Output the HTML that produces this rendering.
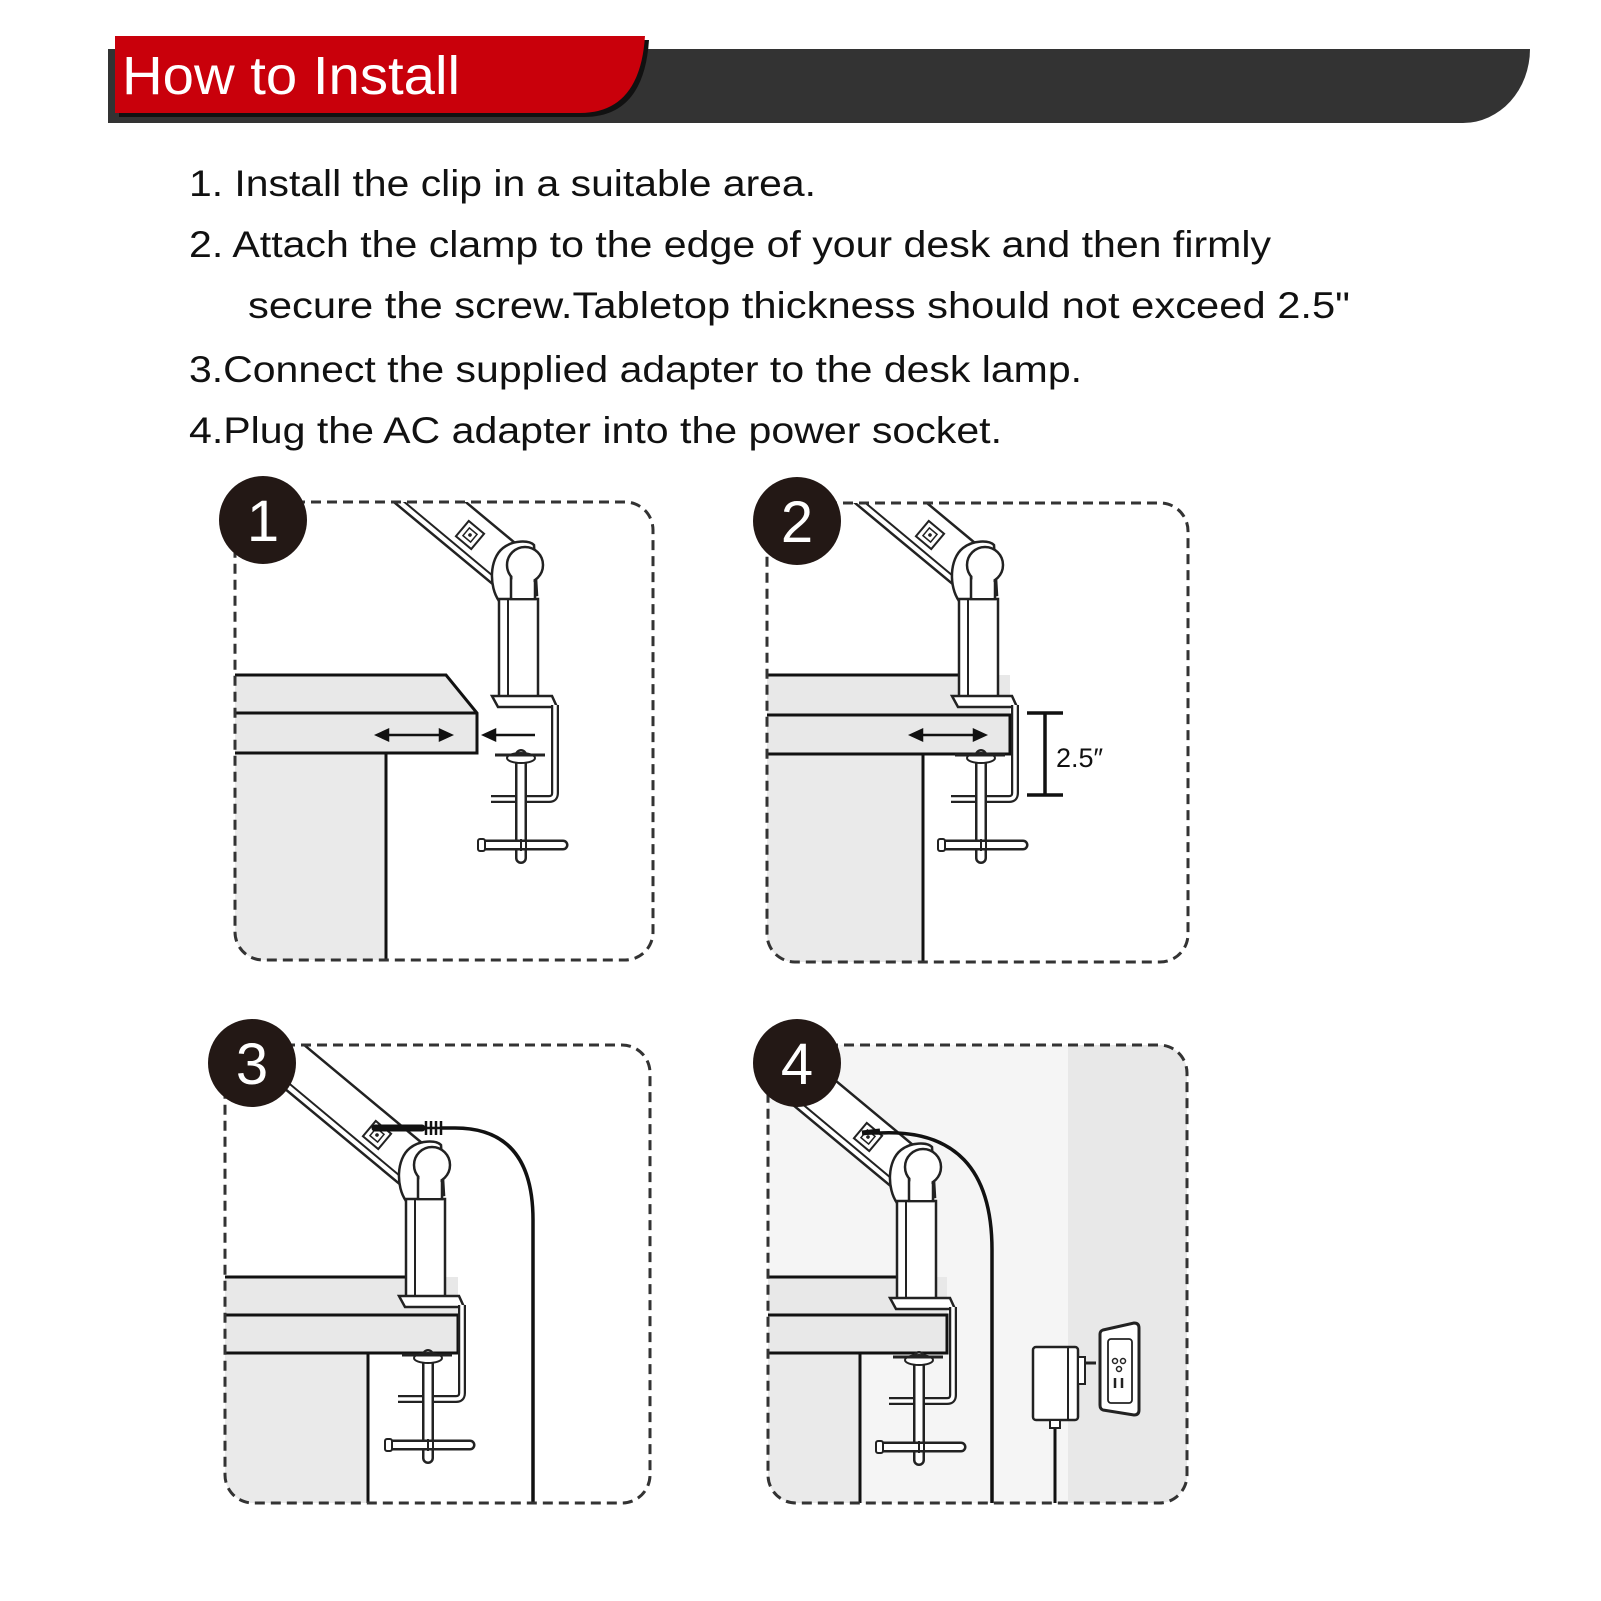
<!DOCTYPE html>
<html><head><meta charset="utf-8"><style>html,body{margin:0;padding:0;background:#fff}svg{display:block}</style></head>
<body>
<svg width="1601" height="1601" viewBox="0 0 1601 1601" xmlns="http://www.w3.org/2000/svg" font-family="Liberation Sans, Arial, sans-serif">
<defs>
  <g id="lamp">
    <polygon points="-10,-22 -260,-230 -272,-180 -24,26" fill="#fff" stroke="#222" stroke-width="2.5"/>
    <line x1="-26" y1="16" x2="-268" y2="-186" stroke="#222" stroke-width="2"/>
    <g transform="translate(-55,-30) rotate(40)">
      <rect x="-10" y="-10" width="20" height="20" fill="#fff" stroke="#222" stroke-width="2"/>
      <rect x="-5" y="-5" width="10" height="10" fill="#fff" stroke="#222" stroke-width="1.5"/>
      <circle r="1.8" fill="#222"/>
    </g>
    <path d="M-26,36 C-36,22 -36,-6 -22,-17 C-12,-25 4,-25 9,-20 L12,30 Z" fill="#fff" stroke="#222" stroke-width="2.5"/>
    <rect x="-26" y="34" width="39" height="102" fill="#fff" stroke="#222" stroke-width="2.5"/>
    <line x1="-17" y1="34" x2="-17" y2="136" stroke="#222" stroke-width="2"/>
    <rect x="-14" y="10" width="24" height="24" fill="#fff" stroke="#222" stroke-width="2.5"/>
    <circle cx="0" cy="0" r="18" fill="#fff" stroke="#222" stroke-width="2.5"/>
    <rect x="-12.5" y="10" width="21" height="23" fill="#fff"/>
    <polygon points="-33,131 27,131 32,142 -27,142" fill="#fff" stroke="#222" stroke-width="2.5"/>
    <path d="M30,140 V228 Q30,234 24,234 H-34" fill="none" stroke="#222" stroke-width="8"/>
    <path d="M30,140 V228 Q30,234 24,234 H-34" fill="none" stroke="#fff" stroke-width="3.5"/>
    <line x1="-4" y1="190" x2="-4" y2="293" stroke="#222" stroke-width="12" stroke-linecap="round"/>
    <line x1="-4" y1="190" x2="-4" y2="293" stroke="#fff" stroke-width="7" stroke-linecap="round"/>
    <line x1="-40" y1="280" x2="38" y2="280" stroke="#222" stroke-width="11" stroke-linecap="round"/>
    <line x1="-40" y1="280" x2="38" y2="280" stroke="#fff" stroke-width="6" stroke-linecap="round"/>
    <rect x="-47" y="274" width="7" height="12" rx="2" fill="#fff" stroke="#222" stroke-width="2"/>
    <line x1="-4" y1="274" x2="-4" y2="286" stroke="#222" stroke-width="2"/>
    <line x1="1" y1="274" x2="1" y2="286" stroke="#222" stroke-width="2"/>
    <ellipse cx="-4" cy="193" rx="14" ry="5" fill="#fff" stroke="#222" stroke-width="2"/>
    <line x1="-30" y1="190" x2="20" y2="190" stroke="#222" stroke-width="3"/>
  </g>
  <clipPath id="c1"><rect x="235" y="502" width="418" height="458" rx="28"/></clipPath>
  <clipPath id="c2"><rect x="767" y="503" width="421" height="459" rx="28"/></clipPath>
  <clipPath id="c3"><rect x="225" y="1045" width="425" height="458" rx="28"/></clipPath>
  <clipPath id="c4"><rect x="768" y="1045" width="419" height="458" rx="28"/></clipPath>
</defs>

<path d="M108,49 H1530 A67,74 0 0 1 1463,123 H108 Z" fill="#333"/>
<path d="M119,40 H649 Q644,117 584,117 H119 Z" fill="#111"/>
<path d="M115,36 H645 Q640,113 580,113 H115 Z" fill="#c9000b"/>
<text x="122" y="94" font-size="54" fill="#fff" textLength="338" lengthAdjust="spacingAndGlyphs">How to Install</text>

<g font-size="37" fill="#111">
<text x="189" y="196" textLength="627" lengthAdjust="spacingAndGlyphs">1. Install the clip in a suitable area.</text>
<text x="189" y="257" textLength="1082" lengthAdjust="spacingAndGlyphs">2. Attach the clamp to the edge of your desk and then firmly</text>
<text x="248" y="318" textLength="1102" lengthAdjust="spacingAndGlyphs">secure the screw.Tabletop thickness should not exceed 2.5"</text>
<text x="189" y="382" textLength="893" lengthAdjust="spacingAndGlyphs">3.Connect the supplied adapter to the desk lamp.</text>
<text x="189" y="443" textLength="813" lengthAdjust="spacingAndGlyphs">4.Plug the AC adapter into the power socket.</text>
</g>

<g clip-path="url(#c1)">
  <rect x="235" y="753" width="151" height="210" fill="#eaeaea"/>
  <line x1="386" y1="753" x2="386" y2="963" stroke="#111" stroke-width="3"/>
  <polygon points="230,675 446,675 477,713 477,753 230,753" fill="#e8e8e8" stroke="#111" stroke-width="3"/>
  <line x1="230" y1="713" x2="477" y2="713" stroke="#111" stroke-width="3"/>
  <use href="#lamp" transform="translate(525,565)"/>
</g>
<g stroke="#111" stroke-width="2.5" fill="#111">
  <line x1="382" y1="735" x2="446" y2="735"/>
  <polygon points="377,735 388,730 388,740"/><polygon points="451,735 440,730 440,740"/>
  <line x1="490" y1="735" x2="535" y2="735"/>
  <polygon points="484,735 495,730 495,740"/>
</g>
<rect x="235" y="502" width="418" height="458" rx="28" fill="none" stroke="#333" stroke-width="3" stroke-dasharray="10 6"/>
<circle cx="263" cy="520" r="44" fill="#231815"/>
<text x="263" y="541" font-size="58" fill="#fff" text-anchor="middle">1</text>

<g clip-path="url(#c2)">
  <rect x="767" y="754" width="156" height="210" fill="#eaeaea"/>
  <line x1="923" y1="754" x2="923" y2="964" stroke="#111" stroke-width="3"/>
  <rect x="760" y="675" width="250" height="79" fill="#e8e8e8"/>
  <line x1="760" y1="675" x2="962" y2="675" stroke="#111" stroke-width="3"/>
  <rect x="760" y="715" width="250" height="39" fill="#e8e8e8" stroke="#111" stroke-width="3"/>
  <use href="#lamp" transform="translate(985,565)"/>
</g>
<g stroke="#111" stroke-width="2.5" fill="#111">
  <line x1="916" y1="735" x2="980" y2="735"/>
  <polygon points="911,735 922,730 922,740"/><polygon points="985,735 974,730 974,740"/>
</g>
<g stroke="#111" stroke-width="3.5">
  <line x1="1045" y1="713" x2="1045" y2="795"/>
  <line x1="1027" y1="713" x2="1063" y2="713"/>
  <line x1="1027" y1="795" x2="1063" y2="795"/>
</g>
<text x="1056" y="767" font-size="27" fill="#111">2.5″</text>
<rect x="767" y="503" width="421" height="459" rx="28" fill="none" stroke="#333" stroke-width="3" stroke-dasharray="10 6"/>
<circle cx="797" cy="521" r="44" fill="#231815"/>
<text x="797" y="542" font-size="58" fill="#fff" text-anchor="middle">2</text>

<g clip-path="url(#c3)">
  <rect x="225" y="1353" width="143" height="155" fill="#eaeaea"/>
  <line x1="368" y1="1353" x2="368" y2="1508" stroke="#111" stroke-width="3"/>
  <rect x="218" y="1277" width="240" height="76" fill="#e8e8e8"/>
  <line x1="218" y1="1277" x2="410" y2="1277" stroke="#111" stroke-width="3"/>
  <rect x="218" y="1315" width="240" height="38" fill="#e8e8e8" stroke="#111" stroke-width="3"/>
  <use href="#lamp" transform="translate(432,1165)"/>
  <path d="M440,1128 H455 Q533,1128 533,1220 V1510" fill="none" stroke="#111" stroke-width="3.5"/>
</g>
<line x1="375" y1="1128" x2="422" y2="1128" stroke="#111" stroke-width="7" stroke-linecap="round"/>
<g stroke="#111" stroke-width="2.5">
  <line x1="426" y1="1121" x2="426" y2="1135"/><line x1="431" y1="1121" x2="431" y2="1135"/>
  <line x1="436" y1="1121" x2="436" y2="1135"/><line x1="441" y1="1121" x2="441" y2="1135"/>
  <line x1="420" y1="1128" x2="444" y2="1128"/>
</g>
<rect x="225" y="1045" width="425" height="458" rx="28" fill="none" stroke="#333" stroke-width="3" stroke-dasharray="10 6"/>
<circle cx="252" cy="1063" r="44" fill="#231815"/>
<text x="252" y="1084" font-size="58" fill="#fff" text-anchor="middle">3</text>

<g clip-path="url(#c4)">
  <rect x="768" y="1045" width="419" height="458" fill="#f5f5f5"/>
  <rect x="1068" y="1045" width="125" height="460" fill="#e8e8e8"/>
  <rect x="768" y="1353" width="92" height="155" fill="#eaeaea"/>
  <line x1="860" y1="1353" x2="860" y2="1508" stroke="#111" stroke-width="3"/>
  <rect x="760" y="1277" width="187" height="76" fill="#e8e8e8"/>
  <line x1="760" y1="1277" x2="900" y2="1277" stroke="#111" stroke-width="3"/>
  <rect x="760" y="1315" width="187" height="38" fill="#e8e8e8" stroke="#111" stroke-width="3"/>
  <use href="#lamp" transform="translate(923,1167)"/>
  <path d="M864,1133 H880 Q992,1128 992,1250 V1510" fill="none" stroke="#111" stroke-width="3.5"/>
  <line x1="1055" y1="1420" x2="1055" y2="1510" stroke="#111" stroke-width="3"/>
</g>
<line x1="862" y1="1133" x2="880" y2="1131" stroke="#111" stroke-width="5"/>
<rect x="1033" y="1347" width="45" height="73" rx="3" fill="#fff" stroke="#222" stroke-width="2.5"/>
<line x1="1068" y1="1347" x2="1068" y2="1420" stroke="#222" stroke-width="2"/>
<rect x="1078" y="1357" width="7" height="27" fill="#fff" stroke="#222" stroke-width="2"/>
<line x1="1085" y1="1363" x2="1096" y2="1363" stroke="#222" stroke-width="3"/>
<rect x="1050" y="1420" width="10" height="8" fill="#fff" stroke="#222" stroke-width="2"/>
<path d="M1103,1330 L1134,1323 Q1139,1323 1139,1328 V1410 Q1139,1415 1134,1415 L1103,1410 Q1100,1409 1100,1405 V1334 Q1100,1331 1103,1330 Z" fill="#fff" stroke="#222" stroke-width="3"/>
<rect x="1108" y="1339" width="24" height="64" rx="3" fill="#fff" stroke="#222" stroke-width="1.8"/>
<circle cx="1115" cy="1361" r="2.5" fill="none" stroke="#222" stroke-width="1.5"/>
<circle cx="1123" cy="1361" r="2.5" fill="none" stroke="#222" stroke-width="1.5"/>
<circle cx="1119" cy="1369" r="2.5" fill="none" stroke="#222" stroke-width="1.5"/>
<line x1="1115" y1="1378" x2="1115" y2="1388" stroke="#222" stroke-width="2.5"/>
<line x1="1122" y1="1378" x2="1122" y2="1388" stroke="#222" stroke-width="2.5"/>
<rect x="768" y="1045" width="419" height="458" rx="28" fill="none" stroke="#333" stroke-width="3" stroke-dasharray="10 6"/>
<circle cx="797" cy="1063" r="44" fill="#231815"/>
<text x="797" y="1084" font-size="58" fill="#fff" text-anchor="middle">4</text>
</svg>
</body></html>
